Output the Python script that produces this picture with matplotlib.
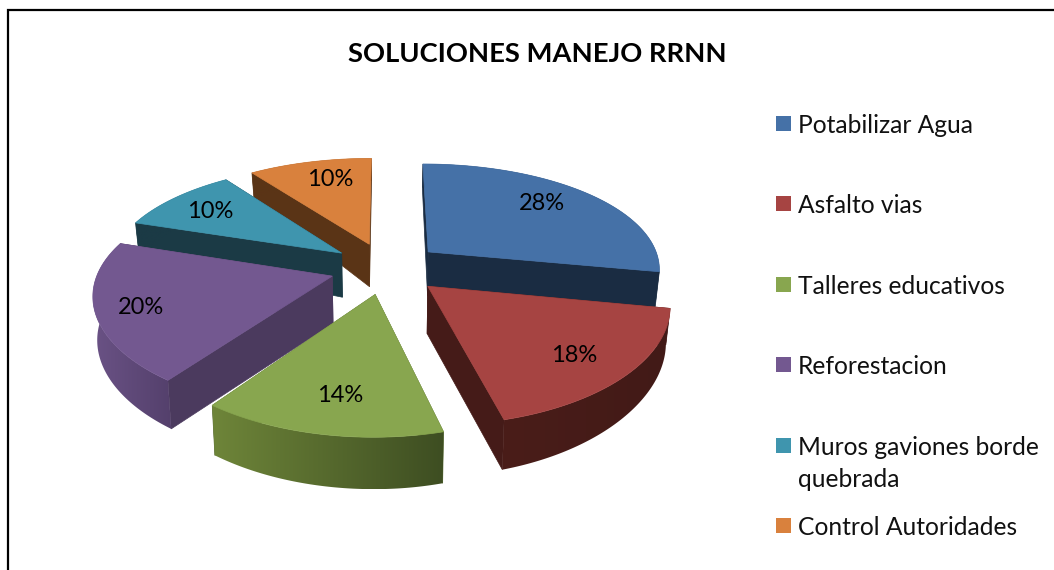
"""Exploded 3D-looking pie: SOLUCIONES MANEJO RRNN."""

import numpy as np
import matplotlib
matplotlib.use('Agg')  # Use non-interactive backend
import matplotlib.pyplot as plt
from matplotlib.colors import to_rgb
from matplotlib.patches import Polygon, Rectangle

plt.rcParams['font.family'] = ['Lato', 'DejaVu Sans']

# Data
categories = ['Potabilizar Agua', 'Asfalto vias', 'Talleres educativos',
              'Reforestacion', 'Muros gaviones borde\nquebrada', 'Control Autoridades']
shares = [28, 18, 14, 20, 10, 10]
title = 'SOLUCIONES MANEJO RRNN'

# Styles
top_colors = ['#4571a7', '#a64442', '#88a64f', '#735890', '#3f95ae', '#d9813d']
cut_colors = ['#1a2c42', '#451b18', '#54682f', '#4b3a5e', '#1b3a45', '#5a3416']
wall_left = ['#1a2c42', '#4a1d19', '#6e8539', '#6a5285', '#1b3a45', '#5a3416']
wall_right = ['#1a2c42', '#421a17', '#3e4e22', '#54406c', '#1b3a45', '#5a3416']
draw_order = [5, 0, 4, 3, 1, 2]

# Layout, in pixels of the 1054x570 canvas
CX, CY = 386, 268
RX, RY = 233, 108
PERSP_X, PERSP_Y = 0.145, 0.171
EXPLODE = 0.24
label_xy = [(542, 204), (574, 356), (340, 395), (141, 308), (210, 212), (330, 180)]
legend_y = [124, 204, 285, 365, 446, 526]
LINE_H = 32


def project(wx, wy):
    return CX + RX * wx / (1 + PERSP_X * wy), CY - RY * wy / (1 + PERSP_Y * wy)


def depth(wx, wy):
    # wall height shrinks towards the back and towards the right
    d = 47 - 20 * np.maximum(wy, 0) + 4 * np.maximum(-wy, 0)
    return d - np.where(wx > 0, 9, 3) * wx ** 2


def top_and_bottom(wx, wy):
    x, y = project(wx, wy)
    return x, y, x - 0.015 * (x - CX), y + depth(wx, wy)


fig = plt.figure(figsize=(10.54, 5.70), dpi=100)
ax = fig.add_axes([0, 0, 1, 1])
ax.axis('off')

# Frame: only top and left show in the crop
ax.plot([8, 8, 1054], [570, 10, 10], color='black', lw=1.6, solid_joinstyle='miter')

fractions = np.array(shares) / sum(shares)
edges = np.concatenate([[0], np.cumsum(fractions)]) * 2 * np.pi

for pos, i in enumerate(draw_order):
    base_z = pos * 3 + 1
    a0, a1 = edges[i], edges[i + 1]
    mid = (a0 + a1) / 2
    ox, oy = EXPLODE * np.sin(mid), EXPLODE * np.cos(mid)
    ang = np.linspace(a0, a1, 80)
    wx, wy = ox + np.sin(ang), oy + np.cos(ang)
    x, y, bx, by = top_and_bottom(wx, wy)
    ax0, ay0, abx, aby = top_and_bottom(np.array(ox), np.array(oy))

    # Cut faces
    for k in (0, -1):
        ax.add_patch(Polygon([(ax0, ay0), (x[k], y[k]), (bx[k], by[k]), (abx, aby)],
                             closed=True, fc=cut_colors[i], ec=cut_colors[i], lw=0.5, zorder=base_z))

    # Outer wall, shaded left to right with a clipped gradient
    c_l, c_r = np.array(to_rgb(wall_left[i])), np.array(to_rgb(wall_right[i]))
    ramp = np.linspace(0, 1, 64)[None, :, None]
    gradient = c_l + (c_r - c_l) * ramp
    wall = Polygon(list(zip(x, y)) + list(zip(bx[::-1], by[::-1])), closed=True,
                   fc='none', ec='none', transform=ax.transData)
    ax.add_patch(wall)
    im = ax.imshow(gradient, extent=(min(x.min(), bx.min()), max(x.max(), bx.max()), by.max(), y.min()),
                   aspect='auto', zorder=base_z + 1, interpolation='bilinear')
    im.set_clip_path(wall)

    # Top face
    pts = [(ax0, ay0)] + list(zip(x, y))
    ax.add_patch(Polygon(pts, closed=True, fc=top_colors[i], ec=top_colors[i], lw=0.5, zorder=base_z + 2))

# imshow moves the limits, so set them after the last slice
ax.set_xlim(0, 1054)
ax.set_ylim(570, 0)

# Percent labels
for i, (lx, ly) in enumerate(label_xy):
    ax.text(lx, ly, f'{shares[i]}%', ha='center', va='center', fontsize=17, color='black', zorder=40)

# Title
ax.text(537, 53.5, title, ha='center', va='center', fontsize=19.7, fontweight='bold', color='black')

# Legend
for i, name in enumerate(categories):
    ax.add_patch(Rectangle((776, legend_y[i] - 8), 15, 15, fc=top_colors[i], ec='none'))
    for n, line in enumerate(name.split('\n')):
        ax.text(798, legend_y[i] + 1.5 + n * LINE_H, line, ha='left', va='center', fontsize=17.7, color='#111111')

fig.savefig('out.png', dpi=100)
plt.close(fig)
